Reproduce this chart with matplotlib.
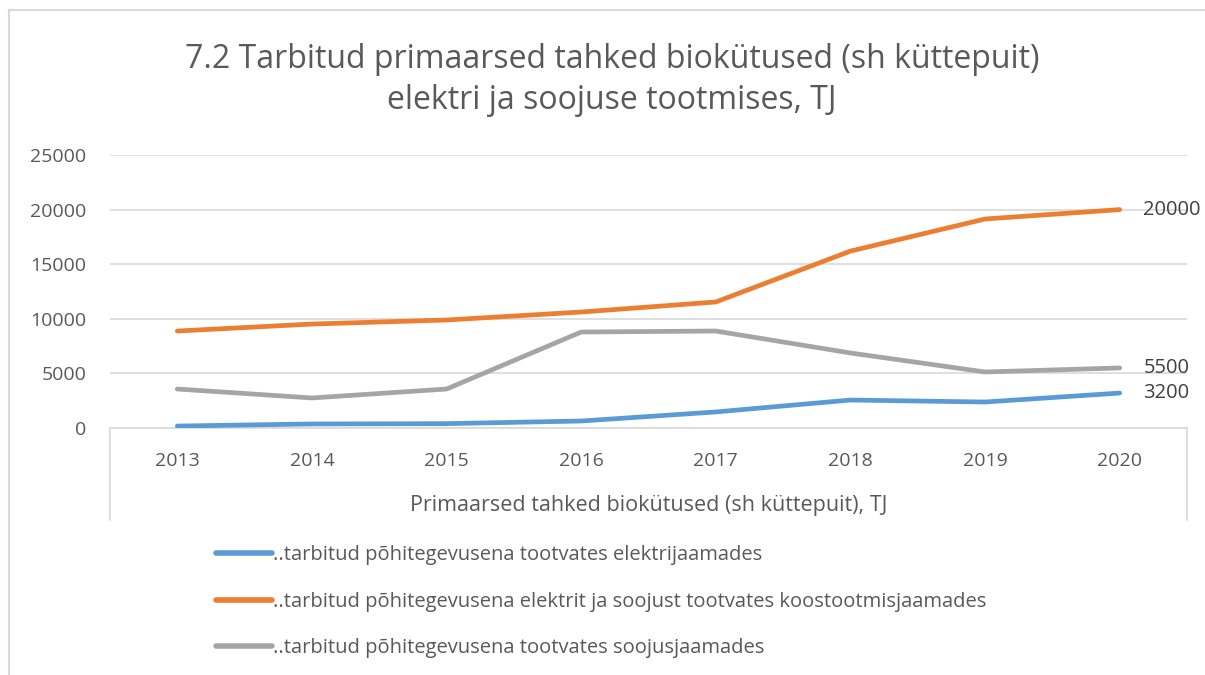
import matplotlib
matplotlib.use("Agg")
import matplotlib.pyplot as plt
from matplotlib.lines import Line2D

plt.rcParams["font.family"] = ["Open Sans", "DejaVu Sans"]

years = ["2013", "2014", "2015", "2016", "2017", "2018", "2019", "2020"]
elektrijaamad = [180, 370, 400, 640, 1470, 2560, 2380, 3200]
koostootmisjaamad = [8880, 9520, 9890, 10620, 11540, 16200, 19140, 20000]
soojusjaamad = [3570, 2750, 3570, 8790, 8880, 6870, 5130, 5500]

series_labels = [
    "..tarbitud põhitegevusena tootvates elektrijaamades",
    "..tarbitud põhitegevusena elektrit ja soojust tootvates koostootmisjaamades",
    "..tarbitud põhitegevusena tootvates soojusjaamades",
]
end_labels = ["3200", "20000", "5500"]
colors = ["#5b9bd5", "#ed7d31", "#a5a5a5"]
text_col = "#595959"
grid_col = "#d9d9d9"

W, H = 1205, 675
fig = plt.figure(figsize=(W / 100, H / 100), dpi=100)

# chart frame (left and top edges visible)
fig.add_artist(Line2D([9 / W, 9 / W], [0, 1 - 10 / H], color=grid_col, lw=1.5))
fig.add_artist(Line2D([9 / W, 1], [1 - 10 / H, 1 - 10 / H], color=grid_col, lw=1.5))

left, right, top, bottom = 110, 1187, 155, 428
ax = fig.add_axes([left / W, 1 - bottom / H, (right - left) / W, (bottom - top) / H])

x = list(range(len(years)))
all_series = [elektrijaamad, koostootmisjaamad, soojusjaamad]
for vals, col, lab, endl in zip(all_series, colors, series_labels, end_labels):
    ax.plot(x, vals, color=col, lw=3.4, solid_capstyle="round", label=lab, zorder=3)
    ax.annotate(endl, (x[-1], vals[-1]), xytext=(17, 0), textcoords="offset points",
                ha="left", va="center", fontsize=14.5, color="#404040")

ax.set_xlim(-0.5, len(years) - 0.5)
ax.set_ylim(0, 25000)
ax.set_yticks(range(0, 25001, 5000))
ax.yaxis.grid(True, color=grid_col, lw=1.2)
ax.set_axisbelow(True)
for s in ["left", "right", "top"]:
    ax.spines[s].set_visible(False)
ax.spines["bottom"].set_color(grid_col)
ax.spines["bottom"].set_linewidth(1.2)
ax.tick_params(axis="y", length=0, pad=17, labelsize=14, labelcolor=text_col)
ax.tick_params(axis="x", length=0, pad=17, labelsize=14, labelcolor=text_col)
ax.set_xticks(x)
ax.set_xticklabels(years)

# multi-level category box below the axis
for px in (left, right):
    fig.add_artist(Line2D([px / W, px / W], [1 - bottom / H, 1 - 520 / H], color=grid_col, lw=1.2))
fig.text((left + right) / 2 / W, 1 - 505 / H,
         "Primaarsed tahked biokütused (sh küttepuit), TJ",
         ha="center", va="center", fontsize=15.5, color=text_col)

fig.text(612 / W, 1 - 80 / H,
         "7.2 Tarbitud primaarsed tahked biokütused (sh küttepuit)\nelektri ja soojuse tootmises, TJ",
         ha="center", va="center", fontsize=23, color=text_col, linespacing=1.3)

handles, labels = ax.get_legend_handles_labels()
leg = fig.legend(handles, labels, loc="upper left", bbox_to_anchor=(198 / W, 1 - 527 / H),
                 frameon=False, fontsize=14.5, labelcolor=text_col, handlelength=2.75,
                 handletextpad=0.05, labelspacing=1.32)
for h in leg.get_lines():
    h.set_linewidth(4)

fig.savefig("out.png", dpi=100)
